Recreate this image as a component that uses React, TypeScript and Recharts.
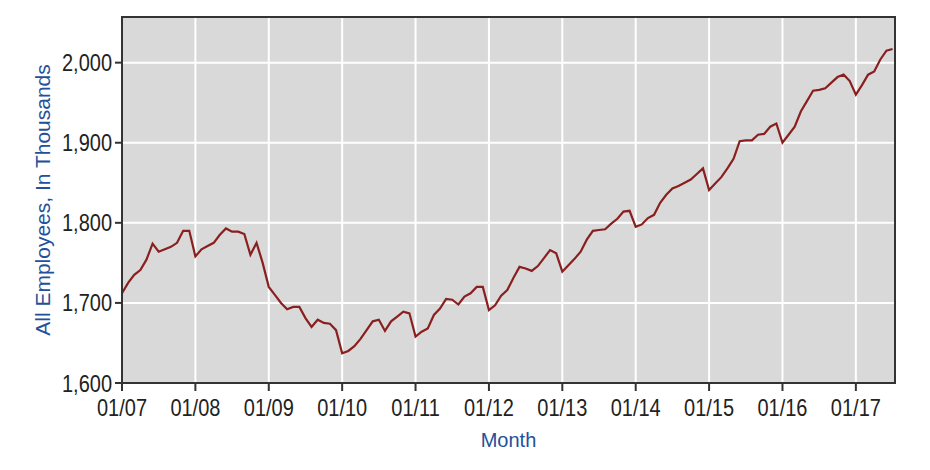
import { LineChart, Line, XAxis, YAxis, CartesianGrid, ReferenceArea } from 'recharts'

// monthly employment, 01/07 .. 07/17 (thousands)
const employees = [
  1712, 1725, 1735, 1741, 1754, 1774, 1764, 1767, 1770, 1775, 1790, 1790,
  1758, 1767, 1771, 1775, 1785, 1793, 1789, 1789, 1786, 1760, 1775, 1750,
  1720, 1710, 1700, 1692, 1695, 1695, 1681, 1670, 1679, 1675, 1674, 1666,
  1637, 1640, 1646, 1655, 1666, 1677, 1679, 1665, 1677, 1683, 1689, 1687,
  1658, 1664, 1668, 1685, 1693, 1705, 1704, 1698, 1708, 1712, 1720, 1720,
  1691, 1697, 1709, 1716, 1731, 1745, 1743, 1740, 1746, 1756, 1766, 1762,
  1739, 1747, 1755, 1764, 1779, 1790, 1791, 1792, 1799, 1805, 1814, 1815,
  1795, 1798, 1806, 1810, 1825, 1835, 1843, 1846, 1850, 1854, 1861, 1868,
  1841, 1849, 1857, 1868, 1880, 1902, 1903, 1903, 1910, 1911, 1920, 1924,
  1900, 1910, 1920, 1939, 1952, 1965, 1966, 1968, 1975, 1982, 1985, 1977,
  1960, 1972, 1985, 1989, 2004, 2015, 2017,
]

const xTicks = [0, 12, 24, 36, 48, 60, 72, 84, 96, 108, 120]
const xTickLabels = ['01/07', '01/08', '01/09', '01/10', '01/11', '01/12', '01/13', '01/14', '01/15', '01/16', '01/17']
const yTicks = [1600, 1700, 1800, 1900, 2000]

const data = employees.map((value, t) => ({ t, value }))

const FONT = '"Liberation Sans", Arial, sans-serif'
const BLUE = '#24509b'
const X_MAX = 126.4
const Y_MAX = 2057

// tick text is a bit taller than plain Arial in the original
function XTick(props: any) {
  const { x, y, payload } = props
  return (
    <g transform={`translate(${x},${y}) scale(1,1.2)`}>
      <text x={0} y={0} dy="0.71em" textAnchor="middle" fill="#222" fontSize={20} fontFamily={FONT}>
        {xTickLabels[xTicks.indexOf(payload.value)]}
      </text>
    </g>
  )
}

function YTick(props: any) {
  const { x, y, payload } = props
  return (
    <g transform={`translate(${x},${y}) scale(1,1.2)`}>
      <text x={0} y={0} dy="0.355em" textAnchor="end" fill="#222" fontSize={20} fontFamily={FONT}>
        {payload.value.toLocaleString('en-US')}
      </text>
    </g>
  )
}

function YLabel(props: any) {
  const { viewBox } = props
  const cx = 34
  const cy = viewBox.y + viewBox.height / 2
  return (
    <text x={cx} y={cy} transform={`rotate(-90, ${cx}, ${cy})`} textAnchor="middle" dominantBaseline="central"
      fill={BLUE} fontSize={21} fontFamily={FONT}>
      All Employees, In Thousands
    </text>
  )
}

function XLabel(props: any) {
  const { viewBox } = props
  const cx = viewBox.x + viewBox.width / 2
  return (
    <text x={cx} y={432} textAnchor="middle" dominantBaseline="central" fill={BLUE} fontSize={20} fontFamily={FONT}>
      Month
    </text>
  )
}

export default function App() {
  return (
    <div style={{ width: 914, height: 454, background: '#fff' }}>
      <LineChart width={914} height={454} data={data} margin={{ top: 9, right: 27, bottom: 0, left: 0 }}>
        <CartesianGrid fill="#d9d9d9" stroke="#ffffff" strokeWidth={2} />
        <XAxis
          dataKey="t"
          type="number"
          domain={[0, X_MAX]}
          ticks={xTicks}
          height={79}
          tickSize={8}
          tickMargin={8}
          stroke="#333"
          strokeWidth={2}
          tick={<XTick />}
          label={<XLabel />}
        />
        <YAxis
          type="number"
          domain={[1600, Y_MAX]}
          ticks={yTicks}
          width={114}
          tickSize={7}
          tickMargin={3}
          stroke="#333"
          strokeWidth={2}
          tick={<YTick />}
          label={<YLabel />}
        />
        <Line type="linear" dataKey="value" stroke="#8a1f1f" strokeWidth={2.2} dot={false} isAnimationActive={false} />
        <ReferenceArea x1={0} x2={X_MAX} y1={1600} y2={Y_MAX} fill="none" stroke="#333" strokeWidth={2} ifOverflow="visible" />
      </LineChart>
    </div>
  )
}
